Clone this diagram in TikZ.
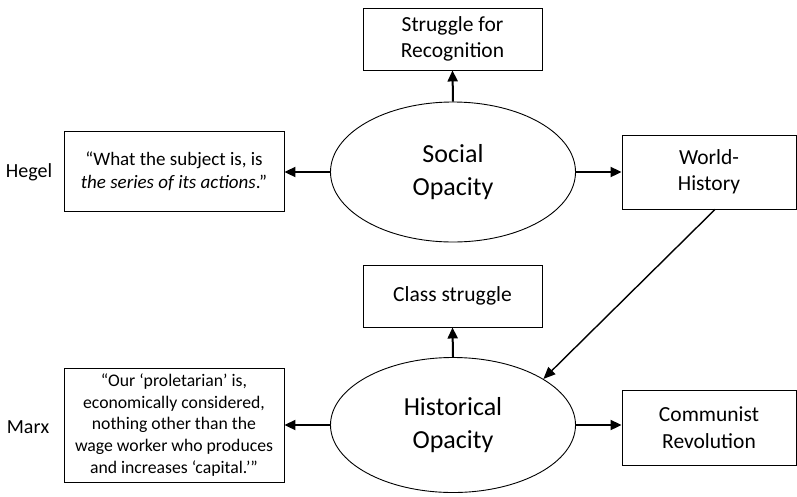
\documentclass[tikz,border=0pt]{standalone}
\usepackage{fontspec}
\setmainfont{Carlito}
\usetikzlibrary{arrows.meta,shapes.geometric,calc}
\tikzset{
  box/.style={draw,line width=0.9pt,rectangle,align=center,inner sep=2pt,font=\fontsize{21.5}{26.5}\selectfont},
  quote/.style={draw,line width=0.9pt,rectangle,align=center,inner sep=2pt},
  oval/.style={draw,line width=0.9pt,ellipse,align=center,inner sep=0pt,font=\fontsize{26}{33}\selectfont},
  lab/.style={font=\fontsize{20}{24}\selectfont},
  arr/.style={line width=2pt,-{Triangle[length=11pt,width=10pt]}},
  darr/.style={line width=1.4pt,-{Triangle[length=12pt,width=10pt]}}
}
\begin{document}
\begin{tikzpicture}[x=1pt,y=-1pt]
\useasboundingbox (0,0) rectangle (797,496);
\node[box,minimum width=179pt,minimum height=62pt] (sor) at (452.5,39) {Struggle for\\Recognition};
\node[oval,minimum width=245pt,minimum height=140pt] (so) at (453,172) {Social\\Opacity};
\node[quote,minimum width=220pt,minimum height=80pt,font=\fontsize{19}{23}\selectfont] (hq) at (174,171.5) {“What the subject is, is\\\textit{the series of its actions}.”};
\node[box,minimum width=174pt,minimum height=74pt] (wh) at (709,172) {World-\\History};
\node[lab] (hegel) at (29,172) {Hegel};
\node[box,minimum width=179pt,minimum height=62pt] (cs) at (452.5,296) {Class struggle};
\node[oval,minimum width=245pt,minimum height=135pt] (ho) at (453,425) {Historical\\Opacity};
\node[quote,minimum width=220pt,minimum height=114pt,font=\fontsize{17.7}{21.7}\selectfont] (mq) at (174,425) {“Our ‘proletarian’ is,\\economically considered,\\nothing other than the\\wage worker who produces\\and increases ‘capital.’”};
\node[box,minimum width=174pt,minimum height=75pt] (cr) at (709,427.5) {Communist\\Revolution};
\node[lab] (marx) at (28,427) {Marx};
\draw[arr] (so.north) -- (sor.south);
\draw[arr] (so.west) -- (so.west -| hq.east);
\draw[arr] (so.east) -- (so.east -| wh.west);
\draw[arr] (ho.north) -- (cs.south);
\draw[arr] (ho.west) -- (ho.west -| mq.east);
\draw[arr] (ho.east) -- (ho.east -| cr.west);
\draw[darr] ($(wh.south)+(6,0)$) -- (ho.27);
\end{tikzpicture}
\end{document}
